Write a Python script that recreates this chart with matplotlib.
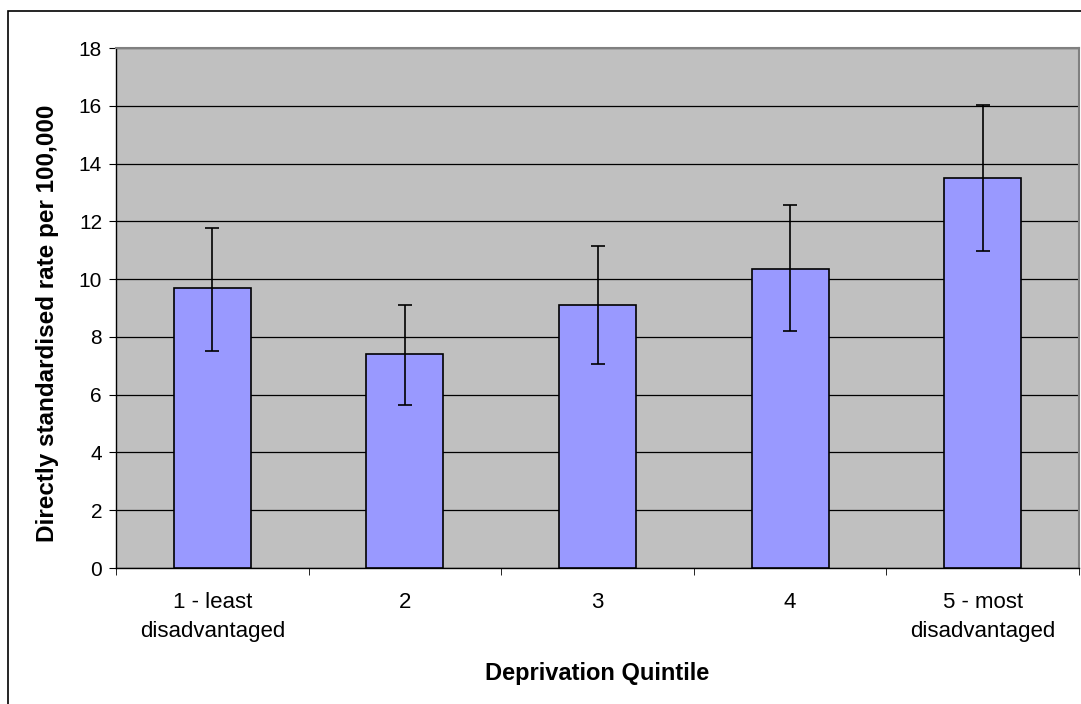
import numpy as np
import matplotlib.pyplot as plt
from matplotlib.patches import Rectangle

plt.rcParams["font.family"] = ["Liberation Sans", "DejaVu Sans"]

categories = ["1 - least\ndisadvantaged", "2", "3", "4", "5 - most\ndisadvantaged"]
rates = [9.69, 7.40, 9.10, 10.35, 13.51]
lower = [7.51, 5.64, 7.07, 8.19, 10.97]
upper = [11.77, 9.10, 11.16, 12.58, 16.04]

x = np.arange(len(categories))
err = [np.array(rates) - np.array(lower), np.array(upper) - np.array(rates)]

fig = plt.figure(figsize=(10.81, 7.04), dpi=100)
ax = fig.add_axes([116 / 1081, 1 - 568 / 704, (1079 - 116) / 1081, (568 - 48) / 704])

# outer chart border
fig.patches.append(Rectangle((8 / 1081, -0.01), 1.1, 1 - 11 / 704 + 0.01,
                             transform=fig.transFigure, fill=False,
                             edgecolor="black", linewidth=1.2))

ax.set_facecolor("#C0C0C0")
ax.bar(x, rates, width=0.4, color="#9999FF", edgecolor="black", linewidth=1.2, zorder=3)
ax.errorbar(x, rates, yerr=err, fmt="none", ecolor="black", elinewidth=1.2,
            capsize=5, capthick=1.2, zorder=4)

ax.set_xlim(-0.5, len(categories) - 0.5)
ax.set_ylim(0, 18)
ax.set_yticks(range(0, 19, 2))
ax.yaxis.grid(True, color="black", linewidth=0.9, zorder=1)
ax.set_axisbelow(True)

ax.set_xticks(x)
ax.set_xticklabels(categories, fontsize=16, linespacing=1.5)
ax.tick_params(axis="x", which="major", length=0, pad=17)
ax.set_xticks(np.arange(-0.5, len(categories)), minor=True)
ax.tick_params(axis="x", which="minor", length=5, direction="out", color="black")
ax.tick_params(axis="y", length=5, direction="out", labelsize=15, pad=5)

for s in ["top", "right"]:
    ax.spines[s].set_color("#808080")
    ax.spines[s].set_linewidth(1.5)
for s in ["left", "bottom"]:
    ax.spines[s].set_color("black")
    ax.spines[s].set_linewidth(1.0)

ax.set_ylabel("Directly standardised rate per 100,000", fontsize=17.5, fontweight="bold")
ax.yaxis.set_label_coords(-0.059, 0.47)
ax.set_xlabel("Deprivation Quintile", fontsize=17, fontweight="bold", labelpad=15)

fig.savefig("out.png", dpi=100)
